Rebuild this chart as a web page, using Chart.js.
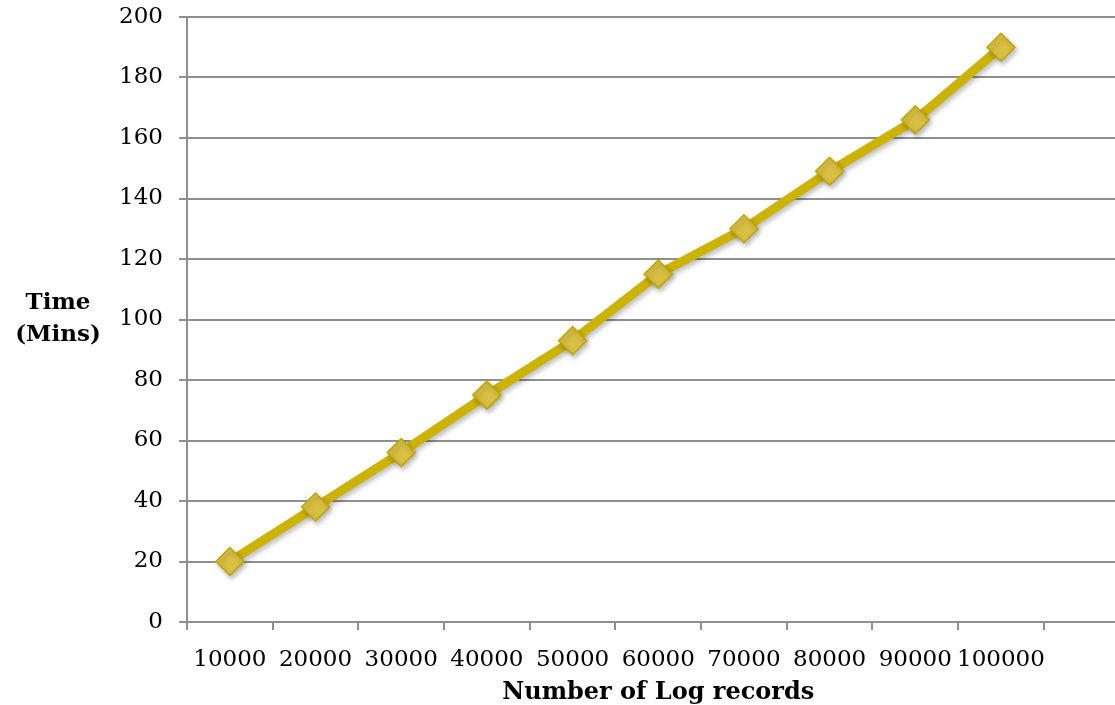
<!DOCTYPE html>
<html>
<head>
<meta charset="utf-8">
<title>Time vs Number of Log records</title>
<script src="https://cdn.jsdelivr.net/npm/chart.js@4/dist/chart.umd.min.js"></script>
<style>
  html, body { margin: 0; padding: 0; background: #ffffff; overflow: hidden; }
  #wrap { position: relative; width: 1145px; height: 705px; }
</style>
</head>
<body>
<div id="wrap"><canvas id="chart"></canvas></div>
<script>
// Number of log records processed (category labels); the trailing blank slot keeps the axis room on the right
const categories = ['10000', '20000', '30000', '40000', '50000', '60000', '70000', '80000', '90000', '100000', ''];
// Processing time in minutes for each batch size
const timeMins = [20, 38, 56, 75, 93, 115, 130, 149, 166, 190];
// Value axis ticks
const yTicks = [0, 20, 40, 60, 80, 100, 120, 140, 160, 180, 200];

const yTitleLines = ['Time', '(Mins)'];
const xTitle = 'Number of Log records';

const FONT = '"DejaVu Serif", "Liberation Serif", serif';
const GRID = '#8f8f8f';

// Soft drop shadow under the line and its markers
const shadowPlugin = {
  id: 'seriesShadow',
  beforeDatasetsDraw(chart) {
    const ctx = chart.ctx;
    ctx.save();
    ctx.shadowColor = 'rgba(0,0,0,0.25)';
    ctx.shadowBlur = 5;
    ctx.shadowOffsetX = 2;
    ctx.shadowOffsetY = 3;
  },
  afterDatasetsDraw(chart) {
    chart.ctx.restore();
  }
};

// Axis titles (the left title is written unrotated, on two lines)
const titlesPlugin = {
  id: 'axisTitles',
  afterDraw(chart) {
    const ctx = chart.ctx;
    const area = chart.chartArea;
    ctx.save();
    ctx.fillStyle = '#000000';
    ctx.font = 'bold 23px ' + FONT;
    ctx.textAlign = 'center';
    ctx.textBaseline = 'middle';
    const midY = (area.top + area.bottom) / 2;
    const lh = 32;
    yTitleLines.forEach((line, i) => {
      ctx.fillText(line, 58, midY + (i - (yTitleLines.length - 1) / 2) * lh);
    });
    ctx.font = 'bold 24px ' + FONT;
    ctx.fillText(xTitle, (area.left + area.right) / 2, 693);
    ctx.restore();
  }
};

new Chart(document.getElementById('chart'), {
  type: 'line',
  data: {
    labels: categories,
    datasets: [{
      label: 'Time (Mins)',
      data: timeMins,
      borderColor: '#ccb300',
      borderWidth: 9,
      backgroundColor: '#d8bf3e',
      pointStyle: 'rectRot',
      pointRadius: 14,
      pointHoverRadius: 14,
      pointBackgroundColor: '#d9c044',
      pointBorderColor: '#bfa600',
      pointBorderWidth: 1.5,
      tension: 0,
      fill: false
    }]
  },
  options: {
    responsive: true,
    maintainAspectRatio: false,
    animation: false,
    events: [],
    layout: { padding: { top: 17, right: 9, bottom: 0, left: 0 } },
    plugins: {
      legend: { display: false },
      tooltip: { enabled: false }
    },
    scales: {
      x: {
        type: 'category',
        offset: true,
        afterFit(scale) {
          scale.height = 83;
          scale.paddingLeft = 0;
          scale.paddingRight = 0;
        },
        border: { display: true, color: GRID, width: 2 },
        grid: {
          offset: true,
          drawOnChartArea: false,
          drawTicks: true,
          tickLength: 8,
          color: GRID,
          lineWidth: 2
        },
        ticks: {
          autoSkip: false,
          maxRotation: 0,
          minRotation: 0,
          padding: 16,
          color: '#000000',
          font: { family: FONT, size: 23 }
        }
      },
      y: {
        min: 0,
        max: 200,
        afterFit(scale) {
          scale.width = 187;
          scale.paddingTop = 0;
          scale.paddingBottom = 0;
        },
        afterBuildTicks(scale) { scale.ticks = yTicks.map(v => ({ value: v })); },
        border: { display: true, color: GRID, width: 2 },
        grid: {
          color: GRID,
          lineWidth: 2,
          drawTicks: true,
          tickLength: 8
        },
        ticks: {
          padding: 16,
          color: '#000000',
          font: { family: FONT, size: 23 }
        }
      }
    }
  },
  plugins: [shadowPlugin, titlesPlugin]
});
</script>
</body>
</html>
